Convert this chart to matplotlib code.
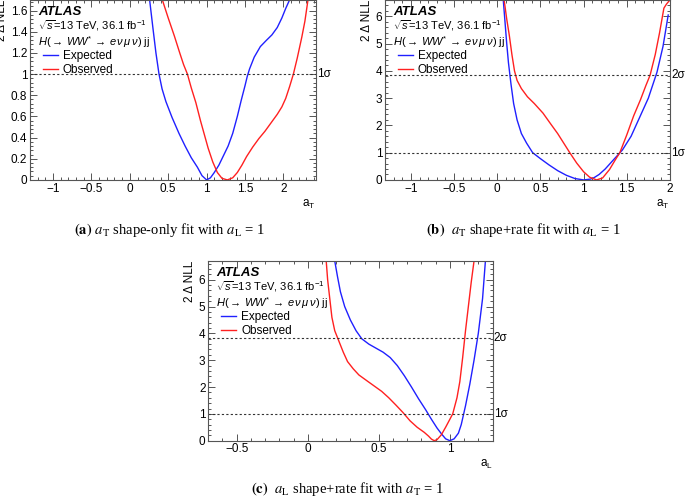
import matplotlib.pyplot as plt
import matplotlib.font_manager as fm
from matplotlib.ticker import MultipleLocator, AutoMinorLocator

# keep the regular-width Liberation faces only
fm.fontManager.ttflist = [f for f in fm.fontManager.ttflist if 'Narrow' not in f.fname]

plt.rcParams['font.family'] = ['Liberation Sans', 'DejaVu Sans']
plt.rcParams['mathtext.fontset'] = 'custom'
plt.rcParams['mathtext.rm'] = 'Liberation Sans'
plt.rcParams['mathtext.it'] = 'Liberation Sans:italic'
plt.rcParams['mathtext.bf'] = 'Liberation Sans:bold'

# (a) a_T shape-only fit
a_exp_x = [0.258, 0.30, 0.34, 0.38, 0.42, 0.47, 0.55, 0.64, 0.72, 0.80, 0.88, 0.94, 1.00,
           1.05, 1.10, 1.16, 1.22, 1.28, 1.34, 1.40, 1.45, 1.50, 1.53, 1.56, 1.62, 1.70,
           1.78, 1.85, 1.92, 1.98, 2.03, 2.08]
a_exp_y = [1.70, 1.44, 1.20, 1.00, 0.86, 0.74, 0.59, 0.44, 0.32, 0.21, 0.12, 0.04, 0.00,
           0.02, 0.07, 0.14, 0.23, 0.32, 0.44, 0.60, 0.75, 0.89, 0.98, 1.05, 1.16, 1.26,
           1.32, 1.37, 1.44, 1.53, 1.62, 1.70]
a_obs_x = [0.424, 0.50, 0.58, 0.65, 0.70, 0.75, 0.80, 0.86, 0.92, 0.97, 1.02, 1.08, 1.14,
           1.20, 1.27, 1.34, 1.40, 1.46, 1.52, 1.60, 1.68, 1.76, 1.84, 1.92, 1.98, 2.03,
           2.08, 2.13, 2.18, 2.24, 2.28, 2.32]
a_obs_y = [1.70, 1.53, 1.36, 1.20, 1.09, 1.00, 0.87, 0.73, 0.56, 0.43, 0.30, 0.17, 0.07,
           0.015, 0.00, 0.02, 0.07, 0.14, 0.22, 0.31, 0.39, 0.46, 0.54, 0.62, 0.69, 0.77,
           0.88, 1.00, 1.15, 1.35, 1.50, 1.70]

# (b) a_T shape+rate fit
b_exp_x = [0.07, 0.09, 0.11, 0.13, 0.16, 0.19, 0.23, 0.28, 0.34, 0.41, 0.50, 0.60, 0.70,
           0.80, 0.90, 1.00, 1.08, 1.12, 1.18, 1.25, 1.35, 1.45, 1.55, 1.65, 1.75, 1.85,
           1.92, 1.98]
b_exp_y = [6.6, 5.8, 5.0, 4.3, 3.5, 2.8, 2.2, 1.7, 1.35, 1.0, 0.78, 0.55, 0.34,
           0.17, 0.05, 0.0, 0.03, 0.08, 0.2, 0.4, 0.75, 1.1, 1.6, 2.3, 3.0, 3.95,
           4.9, 6.05]
b_obs_x = [0.08, 0.11, 0.14, 0.17, 0.20, 0.23, 0.28, 0.35, 0.43, 0.53, 0.62, 0.70, 0.77,
           0.84, 0.92, 1.00, 1.07, 1.15, 1.22, 1.30, 1.37, 1.42, 1.50, 1.58, 1.66, 1.72,
           1.77, 1.83, 1.88, 1.93, 1.96, 2.00]
b_obs_y = [6.6, 5.9, 5.3, 4.6, 4.0, 3.65, 3.35, 3.05, 2.8, 2.45, 2.05, 1.7, 1.35,
           1.0, 0.62, 0.3, 0.1, 0.0, 0.07, 0.38, 0.75, 1.0, 1.65, 2.35, 2.95, 3.45,
           3.84, 4.6, 5.4, 6.3, 6.45, 6.6]

# (c) a_L shape+rate fit
c_exp_x = [0.19, 0.21, 0.23, 0.26, 0.30, 0.34, 0.38, 0.43, 0.48, 0.53, 0.58, 0.63, 0.68,
           0.73, 0.78, 0.83, 0.87, 0.91, 0.94, 0.97, 1.00, 1.03, 1.06, 1.08, 1.11, 1.14,
           1.17, 1.20, 1.23, 1.25]
c_exp_y = [6.7, 6.1, 5.55, 5.0, 4.5, 4.1, 3.8, 3.6, 3.45, 3.3, 3.1, 2.8, 2.42,
           2.0, 1.56, 1.15, 0.8, 0.47, 0.26, 0.07, 0.0, 0.07, 0.28, 0.6, 1.3, 2.1,
           3.0, 4.0, 5.3, 6.7]
c_obs_x = [0.13, 0.14, 0.155, 0.17, 0.19, 0.22, 0.25, 0.28, 0.32, 0.36, 0.42, 0.47, 0.52,
           0.57, 0.62, 0.67, 0.72, 0.77, 0.82, 0.85, 0.87, 0.89, 0.91, 0.94, 0.97, 1.00,
           1.02, 1.05, 1.07, 1.09, 1.11, 1.13, 1.15, 1.17]
c_obs_y = [6.7, 6.0, 5.3, 4.6, 4.1, 3.7, 3.3, 2.95, 2.68, 2.45, 2.22, 2.03, 1.84,
           1.6, 1.33, 1.05, 0.74, 0.5, 0.31, 0.17, 0.06, 0.0, 0.04, 0.22, 0.5, 0.8,
           1.0, 1.6, 2.2, 3.1, 4.1, 5.0, 5.9, 6.7]

sigma_levels = [1.0, 3.84]
sigma_names = ['1σ', '2σ']

panels = [
    dict(rect=[0.0438, 0.638, 0.417, 0.362], xlim=(-1.3, 2.42), ylim=(0, 1.7),
         ymaj=0.2, xlabel=r'a$_{\mathrm{T}}$', exp=(a_exp_x, a_exp_y), obs=(a_obs_x, a_obs_y),
         caption=r'$\mathbf{(a)}$ $a_{\mathrm{T}}$ shape-only fit with $a_{\mathrm{L}}$ = 1',
         cap_xy=(0.248, 0.537)),
    dict(rect=[0.562, 0.638, 0.416, 0.362], xlim=(-1.3, 2.0), ylim=(0, 6.6),
         ymaj=1, xlabel=r'a$_{\mathrm{T}}$', exp=(b_exp_x, b_exp_y), obs=(b_obs_x, b_obs_y),
         caption=r'$\mathbf{(b)}$  $a_{\mathrm{T}}$ shape+rate fit with $a_{\mathrm{L}}$ = 1',
         cap_xy=(0.764, 0.537)),
    dict(rect=[0.304, 0.1133, 0.415, 0.3616], xlim=(-0.7, 1.3), ylim=(0, 6.7),
         ymaj=1, xlabel=r'a$_{\mathrm{L}}$', exp=(c_exp_x, c_exp_y), obs=(c_obs_x, c_obs_y),
         caption=r'$\mathbf{(c)}$  $a_{\mathrm{L}}$ shape+rate fit with $a_{\mathrm{T}}$ = 1',
         cap_xy=(0.507, 0.016)),
]

fig = plt.figure(figsize=(6.85, 4.97), dpi=100)

for p in panels:
    ax = fig.add_axes(p['rect'])
    ax.plot(*p['exp'], color='#2020ff', lw=1.0, label='Expected')
    ax.plot(*p['obs'], color='#ff2020', lw=1.0, label='Observed')
    ax.set_xlim(*p['xlim'])
    ax.set_ylim(*p['ylim'])
    for lev, name in zip(sigma_levels, sigma_names):
        if lev < p['ylim'][1] - 0.5:
            ax.axhline(lev, color='#333333', lw=0.8, ls=(0, (2, 2)))
            ax.text(1.005, lev, name, transform=ax.get_yaxis_transform(),
                    ha='left', va='center', fontsize=8.5)
    ax.xaxis.set_major_locator(MultipleLocator(0.5))
    ax.xaxis.set_minor_locator(MultipleLocator(0.1))
    ax.yaxis.set_major_locator(MultipleLocator(p['ymaj']))
    ax.yaxis.set_minor_locator(AutoMinorLocator(5))
    ax.xaxis.set_major_formatter(plt.FuncFormatter(lambda v, pos: ('%g' % v).replace('-', '\u2212')))
    ax.yaxis.set_major_formatter(plt.FuncFormatter(lambda v, pos: '%g' % v))
    ax.tick_params(which='both', direction='in', top=True, right=True,
                   labelsize=8.5, color='#555555', width=0.7, pad=2)
    ax.tick_params(which='major', length=5)
    ax.tick_params(which='minor', length=2.5)
    for s in ax.spines.values():
        s.set_color('#555555')
        s.set_linewidth(0.8)
    ax.set_ylabel('2 Δ NLL', fontsize=8.5, loc='top', labelpad=2)
    ax.set_xlabel(p['xlabel'], fontsize=8.5, loc='right', labelpad=2)
    ax.text(0.028, 0.932, 'ATLAS', transform=ax.transAxes, fontsize=9.5,
            fontweight='bold', fontstyle='italic', va='center')
    ax.text(0.028, 0.858, r'$\sqrt{s}$=13 TeV, 36.1 fb$^{-1}$', transform=ax.transAxes,
            fontsize=8, va='center')
    ax.text(0.028, 0.768, r'$H(\rightarrow\, WW^{*}\, \rightarrow\, e\,\nu\,\mu\,\nu)$ jj',
            transform=ax.transAxes, fontsize=8, va='center')
    ax.legend(loc='upper left', bbox_to_anchor=(0.045, 0.722), frameon=False, fontsize=8.5,
              handlelength=1.3, handletextpad=0.4, borderaxespad=0, labelspacing=0.2,
              borderpad=0)
    fig.text(p['cap_xy'][0], p['cap_xy'][1], p['caption'], ha='center', va='center',
             fontsize=10.5, family='Liberation Serif', math_fontfamily='stix')

fig.savefig('out.png', dpi=100)
